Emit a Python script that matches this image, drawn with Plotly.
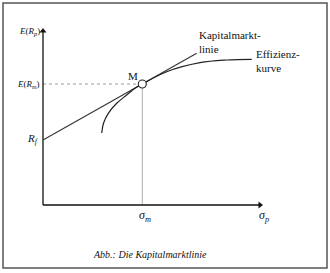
import plotly.graph_objects as go

# --- data (conceptual units: sigma to the right, expected return upwards) ---
frontier_sigma = [58.7, 60.5, 65.3, 73.7, 83.7, 92.0, 99.3, 123.7, 157.0, 183.7, 208.7]
frontier_E = [72.0, 81.7, 91.7, 101.7, 110.0, 116.7, 121.0, 133.3, 142.3, 145.0, 145.7]
R_f = 65.0
M_sigma, M_E = 99.3, 121.0
cml_sigma_end = 153.7
x_axis_end = 219.0
y_axis_end = 176.0

cml_slope = (M_E - R_f) / M_sigma
cml_sigma = [0.0, cml_sigma_end]
cml_E = [R_f + cml_slope * s for s in cml_sigma]

SERIF = "Liberation Serif, Times New Roman, serif"
INK = "#111111"

fig = go.Figure()

# dotted helper to E(Rm)
fig.add_trace(go.Scatter(x=[0, M_sigma], y=[M_E, M_E], mode="lines",
                         line=dict(color="#9a9a9a", width=1, dash="dot"),
                         hoverinfo="skip", showlegend=False))
# vertical helper to sigma_m
fig.add_trace(go.Scatter(x=[M_sigma, M_sigma], y=[0, M_E], mode="lines",
                         line=dict(color="#b0b0b0", width=1),
                         hoverinfo="skip", showlegend=False))
# axes (lines + arrow heads)
fig.add_trace(go.Scatter(x=[0, x_axis_end - 2], y=[0, 0], mode="lines",
                         line=dict(color=INK, width=1.3), hoverinfo="skip", showlegend=False))
fig.add_trace(go.Scatter(x=[0, 0], y=[0, y_axis_end - 2], mode="lines",
                         line=dict(color=INK, width=1.3), hoverinfo="skip", showlegend=False))
fig.add_trace(go.Scatter(x=[x_axis_end - 2], y=[0], mode="markers",
                         marker=dict(symbol="triangle-right", size=6, color=INK),
                         hoverinfo="skip", showlegend=False))
fig.add_trace(go.Scatter(x=[0], y=[y_axis_end - 2], mode="markers",
                         marker=dict(symbol="triangle-up", size=6, color=INK),
                         hoverinfo="skip", showlegend=False))
# capital market line
fig.add_trace(go.Scatter(x=cml_sigma, y=cml_E, mode="lines",
                         line=dict(color="#333333", width=1.1),
                         hoverinfo="skip", showlegend=False))
# efficient frontier
fig.add_trace(go.Scatter(x=frontier_sigma, y=frontier_E, mode="lines",
                         line=dict(color="#222222", width=1.2, shape="spline", smoothing=1.0),
                         hoverinfo="skip", showlegend=False))
# market portfolio M
fig.add_trace(go.Scatter(x=[M_sigma], y=[M_E], mode="markers",
                         marker=dict(size=8, color="white", line=dict(color="#222222", width=1.1)),
                         hoverinfo="skip", showlegend=False))

# outer frame
fig.add_shape(type="rect", xref="x", yref="y", x0=-40, x1=284, y0=-63, y1=202,
              line=dict(color="#555555", width=1.5))

def txt(x, y, s, size=11, xanchor="center", yanchor="middle", align="left"):
    fig.add_annotation(x=x, y=y, xref="x", yref="y", text=s, showarrow=False,
                       xanchor=xanchor, yanchor=yanchor, align=align,
                       font=dict(family=SERIF, size=size, color=INK))

txt(-1, 174, "<i>E</i>(<i>R</i><sub><i>p</i></sub>)", size=9, xanchor="right")
txt(-1, M_E, "<i>E</i>(<i>R</i><sub><i>m</i></sub>)", size=9, xanchor="right")
txt(-2, R_f + 1, "<i>R</i><sub><i>f</i></sub>", size=11, xanchor="right")
txt(M_sigma - 9, M_E + 8, "M", size=11)
txt(154, 163.5, "Kapitalmarkt-<br>linie", size=11, xanchor="left")
txt(211, 144.5, "Effizienz-<br>kurve", size=11, xanchor="left")
txt(M_sigma + 3, -11, "<i>σ</i><sub><i>m</i></sub>", size=12)
txt(x_axis_end + 2, -11, "<i>σ</i><sub><i>p</i></sub>", size=12)
txt(107, -49, "<i>Abb.: Die Kapitalmarktlinie</i>", size=10)

fig.update_layout(
    width=330, height=273,
    margin=dict(l=0, r=0, t=0, b=0),
    paper_bgcolor="white", plot_bgcolor="white",
    xaxis=dict(range=[-43, 287], visible=False, fixedrange=True),
    yaxis=dict(range=[-68, 205], visible=False, fixedrange=True),
    showlegend=False,
)

fig.write_html("out.html")
